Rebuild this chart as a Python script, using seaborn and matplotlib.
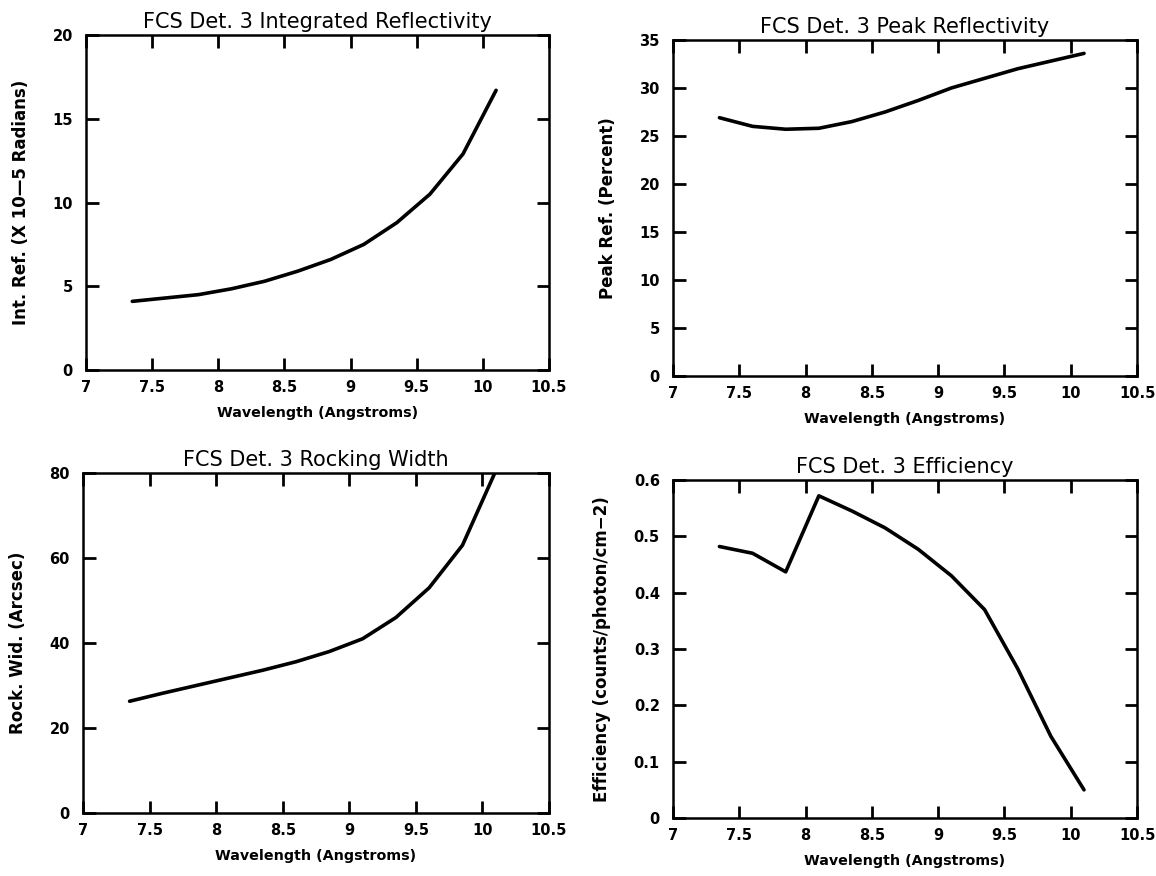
import matplotlib
matplotlib.use("Agg")
import matplotlib.pyplot as plt
import seaborn as sns
import pandas as pd
import numpy as np

wavelength = [7.35, 7.6, 7.85, 8.1, 8.35, 8.6, 8.85, 9.1, 9.35, 9.6, 9.85, 10.1]
int_ref = [4.1, 4.3, 4.5, 4.85, 5.3, 5.9, 6.6, 7.5, 8.8, 10.5, 12.9, 16.7]
peak_ref = [26.9, 26.0, 25.7, 25.8, 26.5, 27.5, 28.7, 30.0, 31.0, 32.0, 32.8, 33.6]
rock_wid = [26.3, 28.2, 30.0, 31.8, 33.6, 35.6, 38.0, 41.0, 46.0, 53.0, 63.0, 80.5]
efficiency = [0.482, 0.470, 0.437, 0.572, 0.545, 0.515, 0.477, 0.430, 0.370, 0.265, 0.145, 0.050]

titles = ["FCS Det. 3 Integrated Reflectivity", "FCS Det. 3 Peak Reflectivity",
          "FCS Det. 3 Rocking Width", "FCS Det. 3 Efficiency"]
ylabels = ["Int. Ref. (X 10\u20145 Radians)", "Peak Ref. (Percent)",
           "Rock. Wid. (Arcsec)", "Efficiency (counts/photon/cm\u22122)"]
xlabel = "Wavelength (Angstroms)"
xticks = [7, 7.5, 8, 8.5, 9, 9.5, 10, 10.5]
xticklabels = ["7", "7.5", "8", "8.5", "9", "9.5", "10", "10.5"]
yticks_list = [[0, 5, 10, 15, 20], [0, 5, 10, 15, 20, 25, 30, 35],
               [0, 20, 40, 60, 80], [0, 0.1, 0.2, 0.3, 0.4, 0.5, 0.6]]
yticklabels_list = [["0", "5", "10", "15", "20"],
                    ["0", "5", "10", "15", "20", "25", "30", "35"],
                    ["0", "20", "40", "60", "80"],
                    ["0", "0.1", "0.2", "0.3", "0.4", "0.5", "0.6"]]
series = [int_ref, peak_ref, rock_wid, efficiency]

sns.set_theme(style="ticks")
plt.rcParams['font.family'] = ['DejaVu Sans']
plt.rcParams['text.color'] = 'black'
plt.rcParams['axes.labelcolor'] = 'black'
plt.rcParams['xtick.color'] = 'black'
plt.rcParams['ytick.color'] = 'black'

fig = plt.figure(figsize=(11.56, 8.76), dpi=100)
positions = [
    [0.0744, 0.5776, 0.4005, 0.3824],
    [0.5822, 0.5708, 0.4014, 0.3836],
    [0.0718, 0.0719, 0.4031, 0.3881],
    [0.5822, 0.0662, 0.4014, 0.3858],
]

for i in range(4):
    ax = fig.add_axes(positions[i])
    df = pd.DataFrame({"x": wavelength, "y": series[i]})
    sns.lineplot(data=df, x="x", y="y", ax=ax, color="black", linewidth=2.6)
    ax.set_xlim(7, 10.5)
    ax.set_ylim(yticks_list[i][0], yticks_list[i][-1])
    ax.set_xticks(xticks)
    ax.set_xticklabels(xticklabels, fontsize=10.5, fontweight="bold", color="black")
    ax.set_yticks(yticks_list[i])
    ax.set_yticklabels(yticklabels_list[i], fontsize=10.5, fontweight="bold", color="black")
    ax.tick_params(direction="in", length=9, width=2, top=True, right=True,
                   colors="black")
    ax.tick_params(axis="x", pad=7)
    ax.tick_params(axis="y", pad=9.5)
    for s in ax.spines.values():
        s.set_linewidth(1.8)
        s.set_color("black")
    ax.set_title(titles[i], fontsize=15, pad=5, color="black")
    ax.set_xlabel(xlabel, fontsize=10.3, fontweight="bold", labelpad=8, color="black")
    ax.set_ylabel(ylabels[i], fontsize=12, fontweight="bold", labelpad=16, color="black")

fig.savefig("out.png", dpi=100, facecolor="white")
